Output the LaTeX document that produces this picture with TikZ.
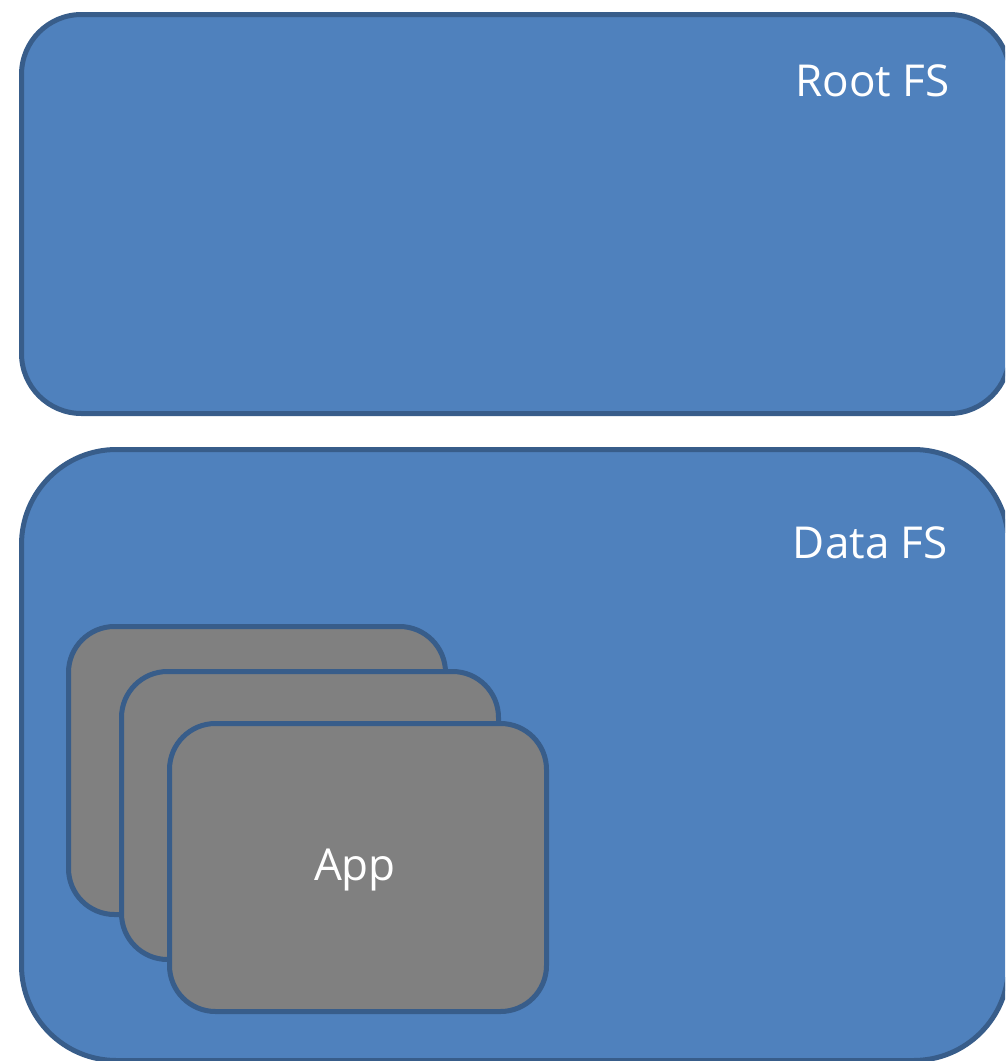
\documentclass[tikz,border=0pt]{standalone}
\usepackage{fontspec}
\setmainfont{Open Sans}
\definecolor{fsblue}{HTML}{4F81BD}
\definecolor{fsedge}{HTML}{385D8A}
\definecolor{appgray}{HTML}{808080}
\begin{document}
\begin{tikzpicture}[x=1pt,y=-1pt,
  fsbox/.style={draw=fsedge, fill=fsblue, line width=5pt, inner sep=0pt, anchor=north west},
  appbox/.style={draw=fsedge, fill=appgray, line width=5pt, inner sep=0pt, anchor=north west,
    minimum width=377pt, minimum height=288pt, rounded corners=46pt},
  lbl/.style={text=white, font=\fontsize{44}{52}\selectfont, inner sep=0pt}]
\useasboundingbox (0,0) rectangle (1005,1061);
\clip (0,0) rectangle (1005,1061);
\node[fsbox, minimum width=988pt, minimum height=399pt, rounded corners=60pt] (root) at (19,12) {};
\node[fsbox, minimum width=987pt, minimum height=611pt, rounded corners=95pt] (data) at (19,447) {};
\node[lbl, anchor=base east] (rootlbl) at (950,96) {Root FS};
\node[lbl, anchor=base east] (datalbl) at (948,558) {Data FS};
\node[appbox] (app1) at (66,624) {};
\node[appbox] (app2) at (119,669) {};
\node[appbox] (app3) at (167,721) {};
\node[lbl] (applbl) at (355,870) {App};
\end{tikzpicture}
\end{document}
